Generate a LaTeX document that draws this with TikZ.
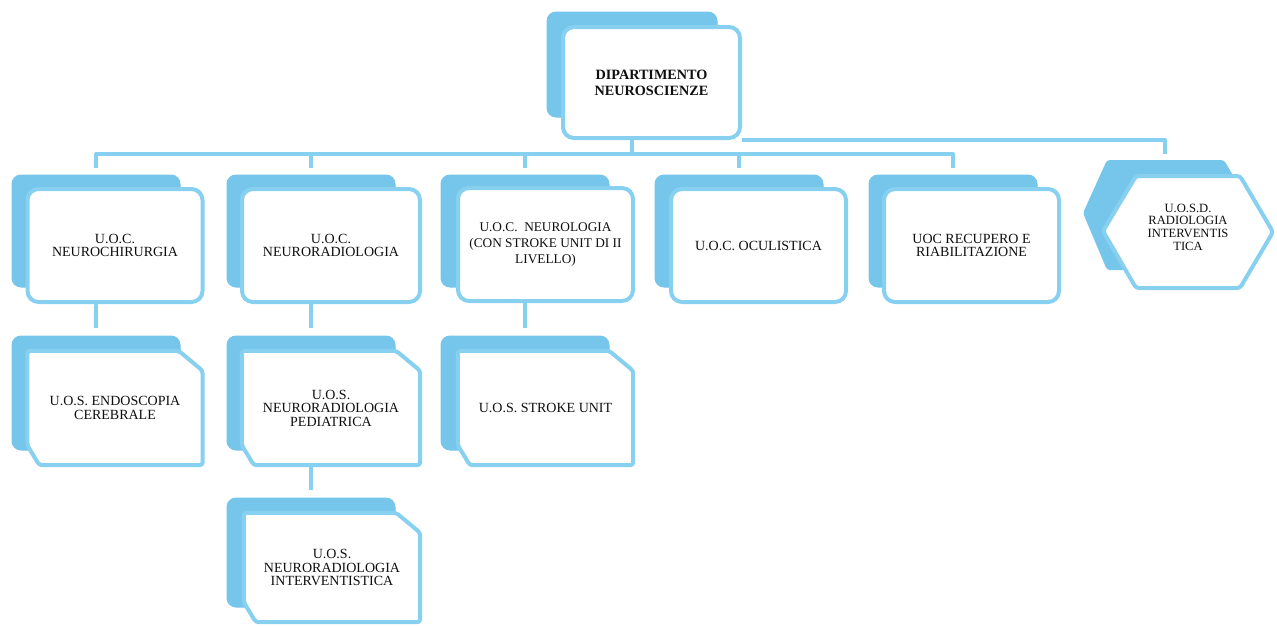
\documentclass[tikz,border=0pt]{standalone}
\usepackage{fontspec}
\setmainfont{Liberation Serif}
\usetikzlibrary{calc}
\definecolor{backblue}{RGB}{118,198,236}
\definecolor{lineblue}{RGB}{136,208,240}
\definecolor{ink}{RGB}{15,15,15}
\newcommand\lab{\fontsize{14}{13.5}\selectfont}
\tikzset{
  backbox/.style={fill=backblue, draw=backblue, line width=1pt, rounded corners=9pt,
    minimum width=168pt, minimum height=112pt, inner sep=0pt},
  frontbox/.style={fill=white, draw=lineblue, line width=4pt, rounded corners=11pt,
    minimum width=175pt, minimum height=113pt, align=center, inner sep=2pt, font=\lab, text=ink},
  frame/.style={minimum width=175pt, minimum height=114pt, inner sep=0pt},
  txt/.style={align=center, inner sep=0pt, font=\lab, text=ink},
  frontline/.style={fill=white, draw=lineblue, line width=4pt, rounded corners=3pt, line join=round},
  conn/.style={draw=lineblue, line width=4pt, line join=round},
}
\begin{document}
\begin{tikzpicture}[x=1pt,y=-1pt]
\useasboundingbox (0,0) rectangle (1277,625);

% top box
\node[backbox, minimum width=170pt, minimum height=105pt] (dipb) at (632,64.5) {};
\node[frontbox, minimum width=177pt, minimum height=111pt,
      font=\bfseries\fontsize{14.2}{16}\selectfont] (dip) at (651.5,82.5) {DIPARTIMENTO\\NEUROSCIENZE};

% row 1
\node[backbox] (ncb) at (96,231) {};
\node[frontbox] (nc) at (115,245.5) {U.O.C.\\NEUROCHIRURGIA};
\node[backbox] (nrb) at (311,231) {};
\node[frontbox, minimum width=178pt] (nr) at (331,245.5) {U.O.C.\\NEURORADIOLOGIA};
\node[backbox] (nlb) at (525,231) {};
\node[frontbox, font=\fontsize{13.3}{16}\selectfont] (nl) at (545.5,244.5) {U.O.C.\ \ NEUROLOGIA\\(CON STROKE UNIT DI II\\LIVELLO)};
\node[backbox] (ocb) at (739,231) {};
\node[frontbox] (oc) at (758.5,245.5) {U.O.C. OCULISTICA};
\node[backbox] (rrb) at (953,231) {};
\node[frontbox] (rr) at (971.5,245.5) {UOC RECUPERO E\\RIABILITAZIONE};

% hexagon
\coordinate (sdtop) at (1165,160);
\fill[backblue, rounded corners=3pt] (1083,213) -- (1107,160) -- (1224,160) -- (1256,215) -- (1224,270) -- (1107,270) -- cycle;
\draw[frontline] (1103,231) -- (1136,176) -- (1240,176) -- (1273,232) -- (1240,288) -- (1136,288) -- cycle;
\node[txt, font=\fontsize{12.6}{12.6}\selectfont] (sd) at (1188,227) {U.O.S.D.\\RADIOLOGIA\\INTERVENTIS\\TICA};

% row 2 : endoscopia
\node[backbox, minimum height=114pt] (enb) at (96,393) {};
\node[frame] (en) at (115,408) {};
\draw[frontline] (en.north west) -- ([xshift=-24pt]en.north east) -- ([yshift=-20pt]en.north east)
  -- (en.south east) -- ([xshift=12pt]en.south west) -- ([yshift=20pt]en.south west) -- cycle;
\node[txt] (ent) at (en) {U.O.S. ENDOSCOPIA\\CEREBRALE};

% row 2 : pediatrica
\node[backbox, minimum height=114pt] (pdb) at (311,393) {};
\node[frame, minimum width=178pt] (pd) at (331,408) {};
\draw[frontline] (pd.north west) -- ([xshift=-24pt]pd.north east) -- ([yshift=-20pt]pd.north east)
  -- (pd.south east) -- ([xshift=12pt]pd.south west) -- ([yshift=20pt]pd.south west) -- cycle;
\node[txt] (pdt) at (pd) {U.O.S.\\NEURORADIOLOGIA\\PEDIATRICA};

% row 2 : stroke unit
\node[backbox, minimum height=114pt] (sub) at (525,393) {};
\node[frame] (su) at (545.5,408) {};
\draw[frontline] (su.north west) -- ([xshift=-24pt]su.north east) -- ([yshift=-20pt]su.north east)
  -- (su.south east) -- ([xshift=12pt]su.south west) -- ([yshift=20pt]su.south west) -- cycle;
\node[txt] (sut) at (su) {U.O.S. STROKE UNIT};

% row 3 : interventistica
\node[backbox, minimum height=109pt] (inb) at (311,552.5) {};
\node[frame, minimum width=176pt, minimum height=109pt] (in) at (332,567.5) {};
\draw[frontline] (in.north west) -- ([xshift=-24pt]in.north east) -- ([yshift=-20pt]in.north east)
  -- (in.south east) -- ([xshift=12pt]in.south west) -- ([yshift=20pt]in.south west) -- cycle;
\node[txt] (int) at (in) {U.O.S.\\NEURORADIOLOGIA\\INTERVENTISTICA};

% connectors
\coordinate (bus) at (632,154);
\draw[conn] (dipb |- dip.south) -- (dipb |- bus);
\draw[conn] ([yshift=7pt]ncb.north) -- (ncb |- bus) -- (rrb |- bus) -- ([yshift=7pt]rrb.north);
\foreach \n in {nrb,nlb,ocb} \draw[conn] (\n |- bus) -- ([yshift=7pt]\n.north);
\draw[conn] (dip.south east) -- (sdtop |- dip.south east) -- ([yshift=6pt]sdtop);
\draw[conn] (ncb |- nc.south) -- ([yshift=8pt]enb.north);
\draw[conn] (nrb |- nr.south) -- ([yshift=8pt]pdb.north);
\draw[conn] (nlb |- nl.south) -- ([yshift=8pt]sub.north);
\draw[conn] (pdb |- pd.south) -- ([yshift=8pt]inb.north);
\end{tikzpicture}
\end{document}
